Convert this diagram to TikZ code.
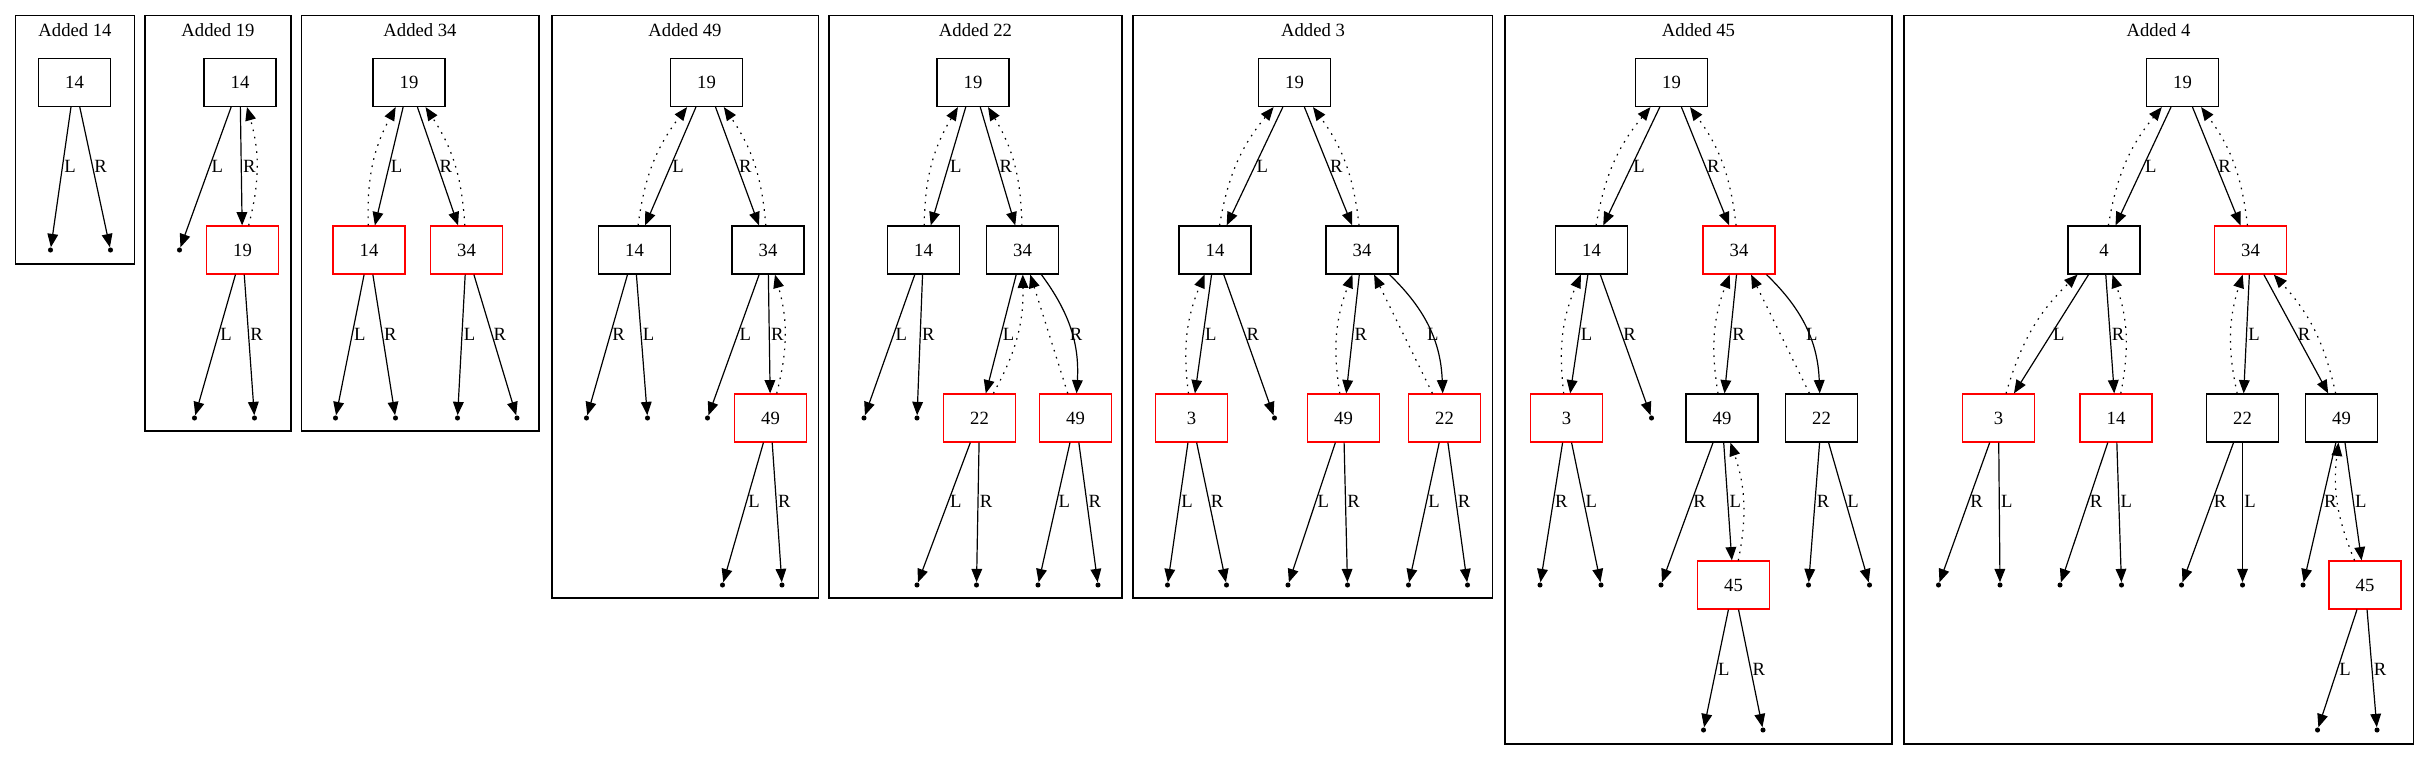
\documentclass[tikz,border=0pt]{standalone}
\usepackage{fontspec}
\setmainfont{Liberation Serif}
\usetikzlibrary{arrows.meta, calc}

\begin{document}
\begin{tikzpicture}[
    x=0.75pt, y=-0.75pt,
    font=\fontsize{14}{16}\selectfont,
    keybox/.style={rectangle, draw=black, line width=0.9pt, minimum width=54pt, minimum height=36pt, inner sep=0pt},
    newkey/.style={keybox, draw=red},
    nil/.style={circle, fill=black, inner sep=0pt, minimum size=3.8pt},
    link/.style={-{Triangle[length=10pt, width=8pt]}, line width=0.9pt},
    uplink/.style={link, dash pattern=on 1.2pt off 4.3pt},
    lab/.style={anchor=west, inner sep=1pt},
    clusterbox/.style={draw=black, line width=0.9pt}
]
    \useasboundingbox (0,0) rectangle (2429,761);

    \draw[clusterbox] (15.5,15.7) rectangle (134.6,264);
    \draw[clusterbox] (145,15.7) rectangle (291,431);
    \draw[clusterbox] (301.3,15.7) rectangle (539,431);
    \draw[clusterbox] (552,15.7) rectangle (818.4,598);
    \draw[clusterbox] (829,15.7) rectangle (1122,598);
    \draw[clusterbox] (1133,15.7) rectangle (1492.5,598);
    \draw[clusterbox] (1505,15.7) rectangle (1892,744);
    \draw[clusterbox] (1904,15.7) rectangle (2413.5,744);

    \node (ta) at (75,30) {Added 14};
    \node (tb) at (218,30) {Added 19};
    \node (tc) at (420,30) {Added 34};
    \node (td) at (685,30) {Added 49};
    \node (te) at (975.5,30) {Added 22};
    \node (tf) at (1313,30) {Added 3};
    \node (tg) at (1698.5,30) {Added 45};
    \node (th) at (2158.5,30) {Added 4};

    \node[keybox] (a14) at (74.5,82.5) {14};
    \node[nil] (an1) at (50.5,250) {};
    \node[nil] (an2) at (110.5,250) {};
    \draw[link] (a14) -- (an1) node[lab] (a14l) at ($(a14)!.5!(an1)$) {L};
    \draw[link] (a14) -- (an2) node[lab] (a14r) at ($(a14)!.5!(an2)$) {R};

    \node[keybox] (b14) at (240,82.5) {14};
    \node[nil] (bn1) at (179.5,250) {};
    \node[newkey] (b19) at (242.5,250) {19};
    \node[nil] (bn2) at (194.5,418) {};
    \node[nil] (bn3) at (254.5,418) {};
    \draw[link] (b14) -- (bn1) node[lab] (b14l) at ($(b14)!.5!(bn1)$) {L};
    \draw[link] (b14) -- (b19) node[lab] (b14r) at ($(b14)!.5!(b19)$) {R};
    \draw[uplink] (b19) to[bend right=15] (b14);
    \draw[link] (b19) -- (bn2) node[lab] (b19l) at ($(b19)!.5!(bn2)$) {L};
    \draw[link] (b19) -- (bn3) node[lab] (b19r) at ($(b19)!.5!(bn3)$) {R};

    \node[keybox] (c19) at (409,82.5) {19};
    \node[newkey] (c14) at (369,250) {14};
    \node[newkey] (c34) at (466.5,250) {34};
    \node[nil] (cn1) at (335.5,418) {};
    \node[nil] (cn2) at (395.5,418) {};
    \node[nil] (cn3) at (457.5,418) {};
    \node[nil] (cn4) at (517,418) {};
    \draw[link] (c19) -- (c14) node[lab] (c19l) at ($(c19)!.5!(c14)$) {L};
    \draw[uplink] (c14) to[bend left=15] (c19);
    \draw[link] (c19) -- (c34) node[lab] (c19r) at ($(c19)!.5!(c34)$) {R};
    \draw[uplink] (c34) to[bend right=15] (c19);
    \draw[link] (c14) -- (cn1) node[lab] (c14l) at ($(c14)!.5!(cn1)$) {L};
    \draw[link] (c14) -- (cn2) node[lab] (c14r) at ($(c14)!.5!(cn2)$) {R};
    \draw[link] (c34) -- (cn3) node[lab] (c34l) at ($(c34)!.5!(cn3)$) {L};
    \draw[link] (c34) -- (cn4) node[lab] (c34r) at ($(c34)!.5!(cn4)$) {R};

    \node[keybox] (d19) at (706.5,82.5) {19};
    \node[keybox] (d14) at (634.5,250) {14};
    \node[keybox] (d34) at (768,250) {34};
    \node[nil] (dn1) at (586.5,418) {};
    \node[nil] (dn2) at (647.5,418) {};
    \node[nil] (dn3) at (707.5,418) {};
    \node[newkey] (d49) at (770.5,418) {49};
    \node[nil] (dn4) at (722.5,585) {};
    \node[nil] (dn5) at (782,585) {};
    \draw[link] (d19) -- (d14) node[lab] (d19l) at ($(d19)!.5!(d14)$) {L};
    \draw[uplink] (d14) to[bend left=15] (d19);
    \draw[link] (d19) -- (d34) node[lab] (d19r) at ($(d19)!.5!(d34)$) {R};
    \draw[uplink] (d34) to[bend right=15] (d19);
    \draw[link] (d14) -- (dn1) node[lab] (d14r) at ($(d14)!.5!(dn1)$) {R};
    \draw[link] (d14) -- (dn2) node[lab] (d14l) at ($(d14)!.5!(dn2)$) {L};
    \draw[link] (d34) -- (dn3) node[lab] (d34l) at ($(d34)!.5!(dn3)$) {L};
    \draw[link] (d34) -- (d49) node[lab] (d34r) at ($(d34)!.5!(d49)$) {R};
    \draw[uplink] (d49) to[bend right=15] (d34);
    \draw[link] (d49) -- (dn4) node[lab] (d49l) at ($(d49)!.5!(dn4)$) {L};
    \draw[link] (d49) -- (dn5) node[lab] (d49r) at ($(d49)!.5!(dn5)$) {R};

    \node[keybox] (e19) at (973,82.5) {19};
    \node[keybox] (e14) at (923.5,250) {14};
    \node[keybox] (e34) at (1022.5,250) {34};
    \node[nil] (en1) at (864,418) {};
    \node[nil] (en2) at (917,418) {};
    \node[newkey] (e22) at (979.5,418) {22};
    \node[newkey] (e49) at (1075.5,418) {49};
    \node[nil] (en3) at (917,585) {};
    \node[nil] (en4) at (976.5,585) {};
    \node[nil] (en5) at (1038,585) {};
    \node[nil] (en6) at (1098,585) {};
    \draw[link] (e19) -- (e14) node[lab] (e19l) at ($(e19)!.5!(e14)$) {L};
    \draw[uplink] (e14) to[bend left=15] (e19);
    \draw[link] (e19) -- (e34) node[lab] (e19r) at ($(e19)!.5!(e34)$) {R};
    \draw[uplink] (e34) to[bend right=15] (e19);
    \draw[link] (e14) -- (en1) node[lab] (e14l) at ($(e14)!.5!(en1)$) {L};
    \draw[link] (e14) -- (en2) node[lab] (e14r) at ($(e14)!.5!(en2)$) {R};
    \draw[link] (e34) -- (e22) node[lab] (e34l) at ($(e34)!.5!(e22)$) {L};
    \draw[uplink] (e22) to[bend right=15] (e34);
    \draw[link] (e34) to[bend left=20] (e49) node[lab] (e34r) at ($(e34)!.5!(e49)+(19,0)$) {R};
    \draw[uplink] (e49) -- (e34);
    \draw[link] (e22) -- (en3) node[lab] (e22l) at ($(e22)!.5!(en3)$) {L};
    \draw[link] (e22) -- (en4) node[lab] (e22r) at ($(e22)!.5!(en4)$) {R};
    \draw[link] (e49) -- (en5) node[lab] (e49l) at ($(e49)!.5!(en5)$) {L};
    \draw[link] (e49) -- (en6) node[lab] (e49r) at ($(e49)!.5!(en6)$) {R};

    \node[keybox] (f19) at (1294.5,82.5) {19};
    \node[keybox] (f14) at (1215,250) {14};
    \node[keybox] (f34) at (1362,250) {34};
    \node[newkey] (f3) at (1191.5,418) {3};
    \node[nil] (fn1) at (1274.5,418) {};
    \node[newkey] (f49) at (1343.5,418) {49};
    \node[newkey] (f22) at (1444.5,418) {22};
    \node[nil] (fn2) at (1167.5,585) {};
    \node[nil] (fn3) at (1226.5,585) {};
    \node[nil] (fn4) at (1288,585) {};
    \node[nil] (fn5) at (1347.5,585) {};
    \node[nil] (fn6) at (1408.5,585) {};
    \node[nil] (fn7) at (1467.5,585) {};
    \draw[link] (f19) -- (f14) node[lab] (f19l) at ($(f19)!.5!(f14)$) {L};
    \draw[uplink] (f14) to[bend left=15] (f19);
    \draw[link] (f19) -- (f34) node[lab] (f19r) at ($(f19)!.5!(f34)$) {R};
    \draw[uplink] (f34) to[bend right=15] (f19);
    \draw[link] (f14) -- (f3) node[lab] (f14l) at ($(f14)!.5!(f3)$) {L};
    \draw[uplink] (f3) to[bend left=15] (f14);
    \draw[link] (f14) -- (fn1) node[lab] (f14r) at ($(f14)!.5!(fn1)$) {R};
    \draw[link] (f34) -- (f49) node[lab] (f34r) at ($(f34)!.5!(f49)$) {R};
    \draw[uplink] (f49) to[bend left=15] (f34);
    \draw[link] (f34) to[bend left=22] (f22) node[lab] (f34l) at ($(f34)!.5!(f22)+(22,0)$) {L};
    \draw[uplink] (f22) -- (f34);
    \draw[link] (f3) -- (fn2) node[lab] (f3l) at ($(f3)!.5!(fn2)$) {L};
    \draw[link] (f3) -- (fn3) node[lab] (f3r) at ($(f3)!.5!(fn3)$) {R};
    \draw[link] (f49) -- (fn4) node[lab] (f49l) at ($(f49)!.5!(fn4)$) {L};
    \draw[link] (f49) -- (fn5) node[lab] (f49r) at ($(f49)!.5!(fn5)$) {R};
    \draw[link] (f22) -- (fn6) node[lab] (f22l) at ($(f22)!.5!(fn6)$) {L};
    \draw[link] (f22) -- (fn7) node[lab] (f22r) at ($(f22)!.5!(fn7)$) {R};

    \node[keybox] (g19) at (1671.5,82.5) {19};
    \node[keybox] (g14) at (1591.5,250) {14};
    \node[newkey] (g34) at (1739,250) {34};
    \node[newkey] (g3) at (1566.5,418) {3};
    \node[nil] (gn1) at (1651.5,418) {};
    \node[keybox] (g49) at (1722,418) {49};
    \node[keybox] (g22) at (1821.5,418) {22};
    \node[nil] (gn2) at (1540,585) {};
    \node[nil] (gn3) at (1601,585) {};
    \node[nil] (gn4) at (1661,585) {};
    \node[newkey] (g45) at (1733.5,585) {45};
    \node[nil] (gn5) at (1808.5,585) {};
    \node[nil] (gn6) at (1869.5,585) {};
    \node[nil] (gn7) at (1703.5,730) {};
    \node[nil] (gn8) at (1763,730) {};
    \draw[link] (g19) -- (g14) node[lab] (g19l) at ($(g19)!.5!(g14)$) {L};
    \draw[uplink] (g14) to[bend left=15] (g19);
    \draw[link] (g19) -- (g34) node[lab] (g19r) at ($(g19)!.5!(g34)$) {R};
    \draw[uplink] (g34) to[bend right=15] (g19);
    \draw[link] (g14) -- (g3) node[lab] (g14l) at ($(g14)!.5!(g3)$) {L};
    \draw[uplink] (g3) to[bend left=15] (g14);
    \draw[link] (g14) -- (gn1) node[lab] (g14r) at ($(g14)!.5!(gn1)$) {R};
    \draw[link] (g34) -- (g49) node[lab] (g34r) at ($(g34)!.5!(g49)$) {R};
    \draw[uplink] (g49) to[bend left=15] (g34);
    \draw[link] (g34) to[bend left=22] (g22) node[lab] (g34l) at ($(g34)!.5!(g22)+(24,0)$) {L};
    \draw[uplink] (g22) -- (g34);
    \draw[link] (g3) -- (gn2) node[lab] (g3r) at ($(g3)!.5!(gn2)$) {R};
    \draw[link] (g3) -- (gn3) node[lab] (g3l) at ($(g3)!.5!(gn3)$) {L};
    \draw[link] (g49) -- (gn4) node[lab] (g49r) at ($(g49)!.5!(gn4)$) {R};
    \draw[link] (g49) -- (g45) node[lab] (g49l) at ($(g49)!.5!(g45)$) {L};
    \draw[uplink] (g45) to[bend right=15] (g49);
    \draw[link] (g22) -- (gn5) node[lab] (g22r) at ($(g22)!.5!(gn5)$) {R};
    \draw[link] (g22) -- (gn6) node[lab] (g22l) at ($(g22)!.5!(gn6)$) {L};
    \draw[link] (g45) -- (gn7) node[lab] (g45l) at ($(g45)!.58!(gn7)$) {L};
    \draw[link] (g45) -- (gn8) node[lab] (g45r) at ($(g45)!.58!(gn8)$) {R};

    \node[keybox] (h19) at (2182.5,82.5) {19};
    \node[keybox] (h4) at (2104,250) {4};
    \node[newkey] (h34) at (2250.5,250) {34};
    \node[newkey] (h3) at (1998.5,418) {3};
    \node[newkey] (h14) at (2116,418) {14};
    \node[keybox] (h22) at (2242.5,418) {22};
    \node[keybox] (h49) at (2341.5,418) {49};
    \node[nil] (hn1) at (1938.5,585) {};
    \node[nil] (hn2) at (2000,585) {};
    \node[nil] (hn3) at (2060,585) {};
    \node[nil] (hn4) at (2121.5,585) {};
    \node[nil] (hn5) at (2181.5,585) {};
    \node[nil] (hn6) at (2242.5,585) {};
    \node[nil] (hn7) at (2303,585) {};
    \node[newkey] (h45) at (2365,585) {45};
    \node[nil] (hn8) at (2317.5,730) {};
    \node[nil] (hn9) at (2377,730) {};
    \draw[link] (h19) -- (h4) node[lab] (h19l) at ($(h19)!.5!(h4)$) {L};
    \draw[uplink] (h4) to[bend left=15] (h19);
    \draw[link] (h19) -- (h34) node[lab] (h19r) at ($(h19)!.5!(h34)$) {R};
    \draw[uplink] (h34) to[bend right=15] (h19);
    \draw[link] (h4) -- (h3) node[lab] (h4l) at ($(h4)!.5!(h3)$) {L};
    \draw[uplink] (h3) to[bend left=15] (h4);
    \draw[link] (h4) -- (h14) node[lab] (h4r) at ($(h4)!.5!(h14)$) {R};
    \draw[uplink] (h14) to[bend right=15] (h4);
    \draw[link] (h34) -- (h22) node[lab] (h34l) at ($(h34)!.5!(h22)$) {L};
    \draw[uplink] (h22) to[bend left=15] (h34);
    \draw[link] (h34) -- (h49) node[lab] (h34r) at ($(h34)!.5!(h49)$) {R};
    \draw[uplink] (h49) to[bend right=15] (h34);
    \draw[link] (h3) -- (hn1) node[lab] (h3r) at ($(h3)!.5!(hn1)$) {R};
    \draw[link] (h3) -- (hn2) node[lab] (h3l) at ($(h3)!.5!(hn2)$) {L};
    \draw[link] (h14) -- (hn3) node[lab] (h14r) at ($(h14)!.5!(hn3)$) {R};
    \draw[link] (h14) -- (hn4) node[lab] (h14l) at ($(h14)!.5!(hn4)$) {L};
    \draw[link] (h22) -- (hn5) node[lab] (h22r) at ($(h22)!.5!(hn5)$) {R};
    \draw[link] (h22) -- (hn6) node[lab] (h22l) at ($(h22)!.5!(hn6)$) {L};
    \draw[link] (h49) -- (hn7) node[lab] (h49r) at ($(h49)!.5!(hn7)$) {R};
    \draw[link] (h49) -- (h45) node[lab] (h49l) at ($(h49)!.5!(h45)$) {L};
    \draw[uplink] (h45) to[bend left=15] (h49);
    \draw[link] (h45) -- (hn8) node[lab] (h45l) at ($(h45)!.58!(hn8)$) {L};
    \draw[link] (h45) -- (hn9) node[lab] (h45r) at ($(h45)!.58!(hn9)$) {R};
\end{tikzpicture}
\end{document}
